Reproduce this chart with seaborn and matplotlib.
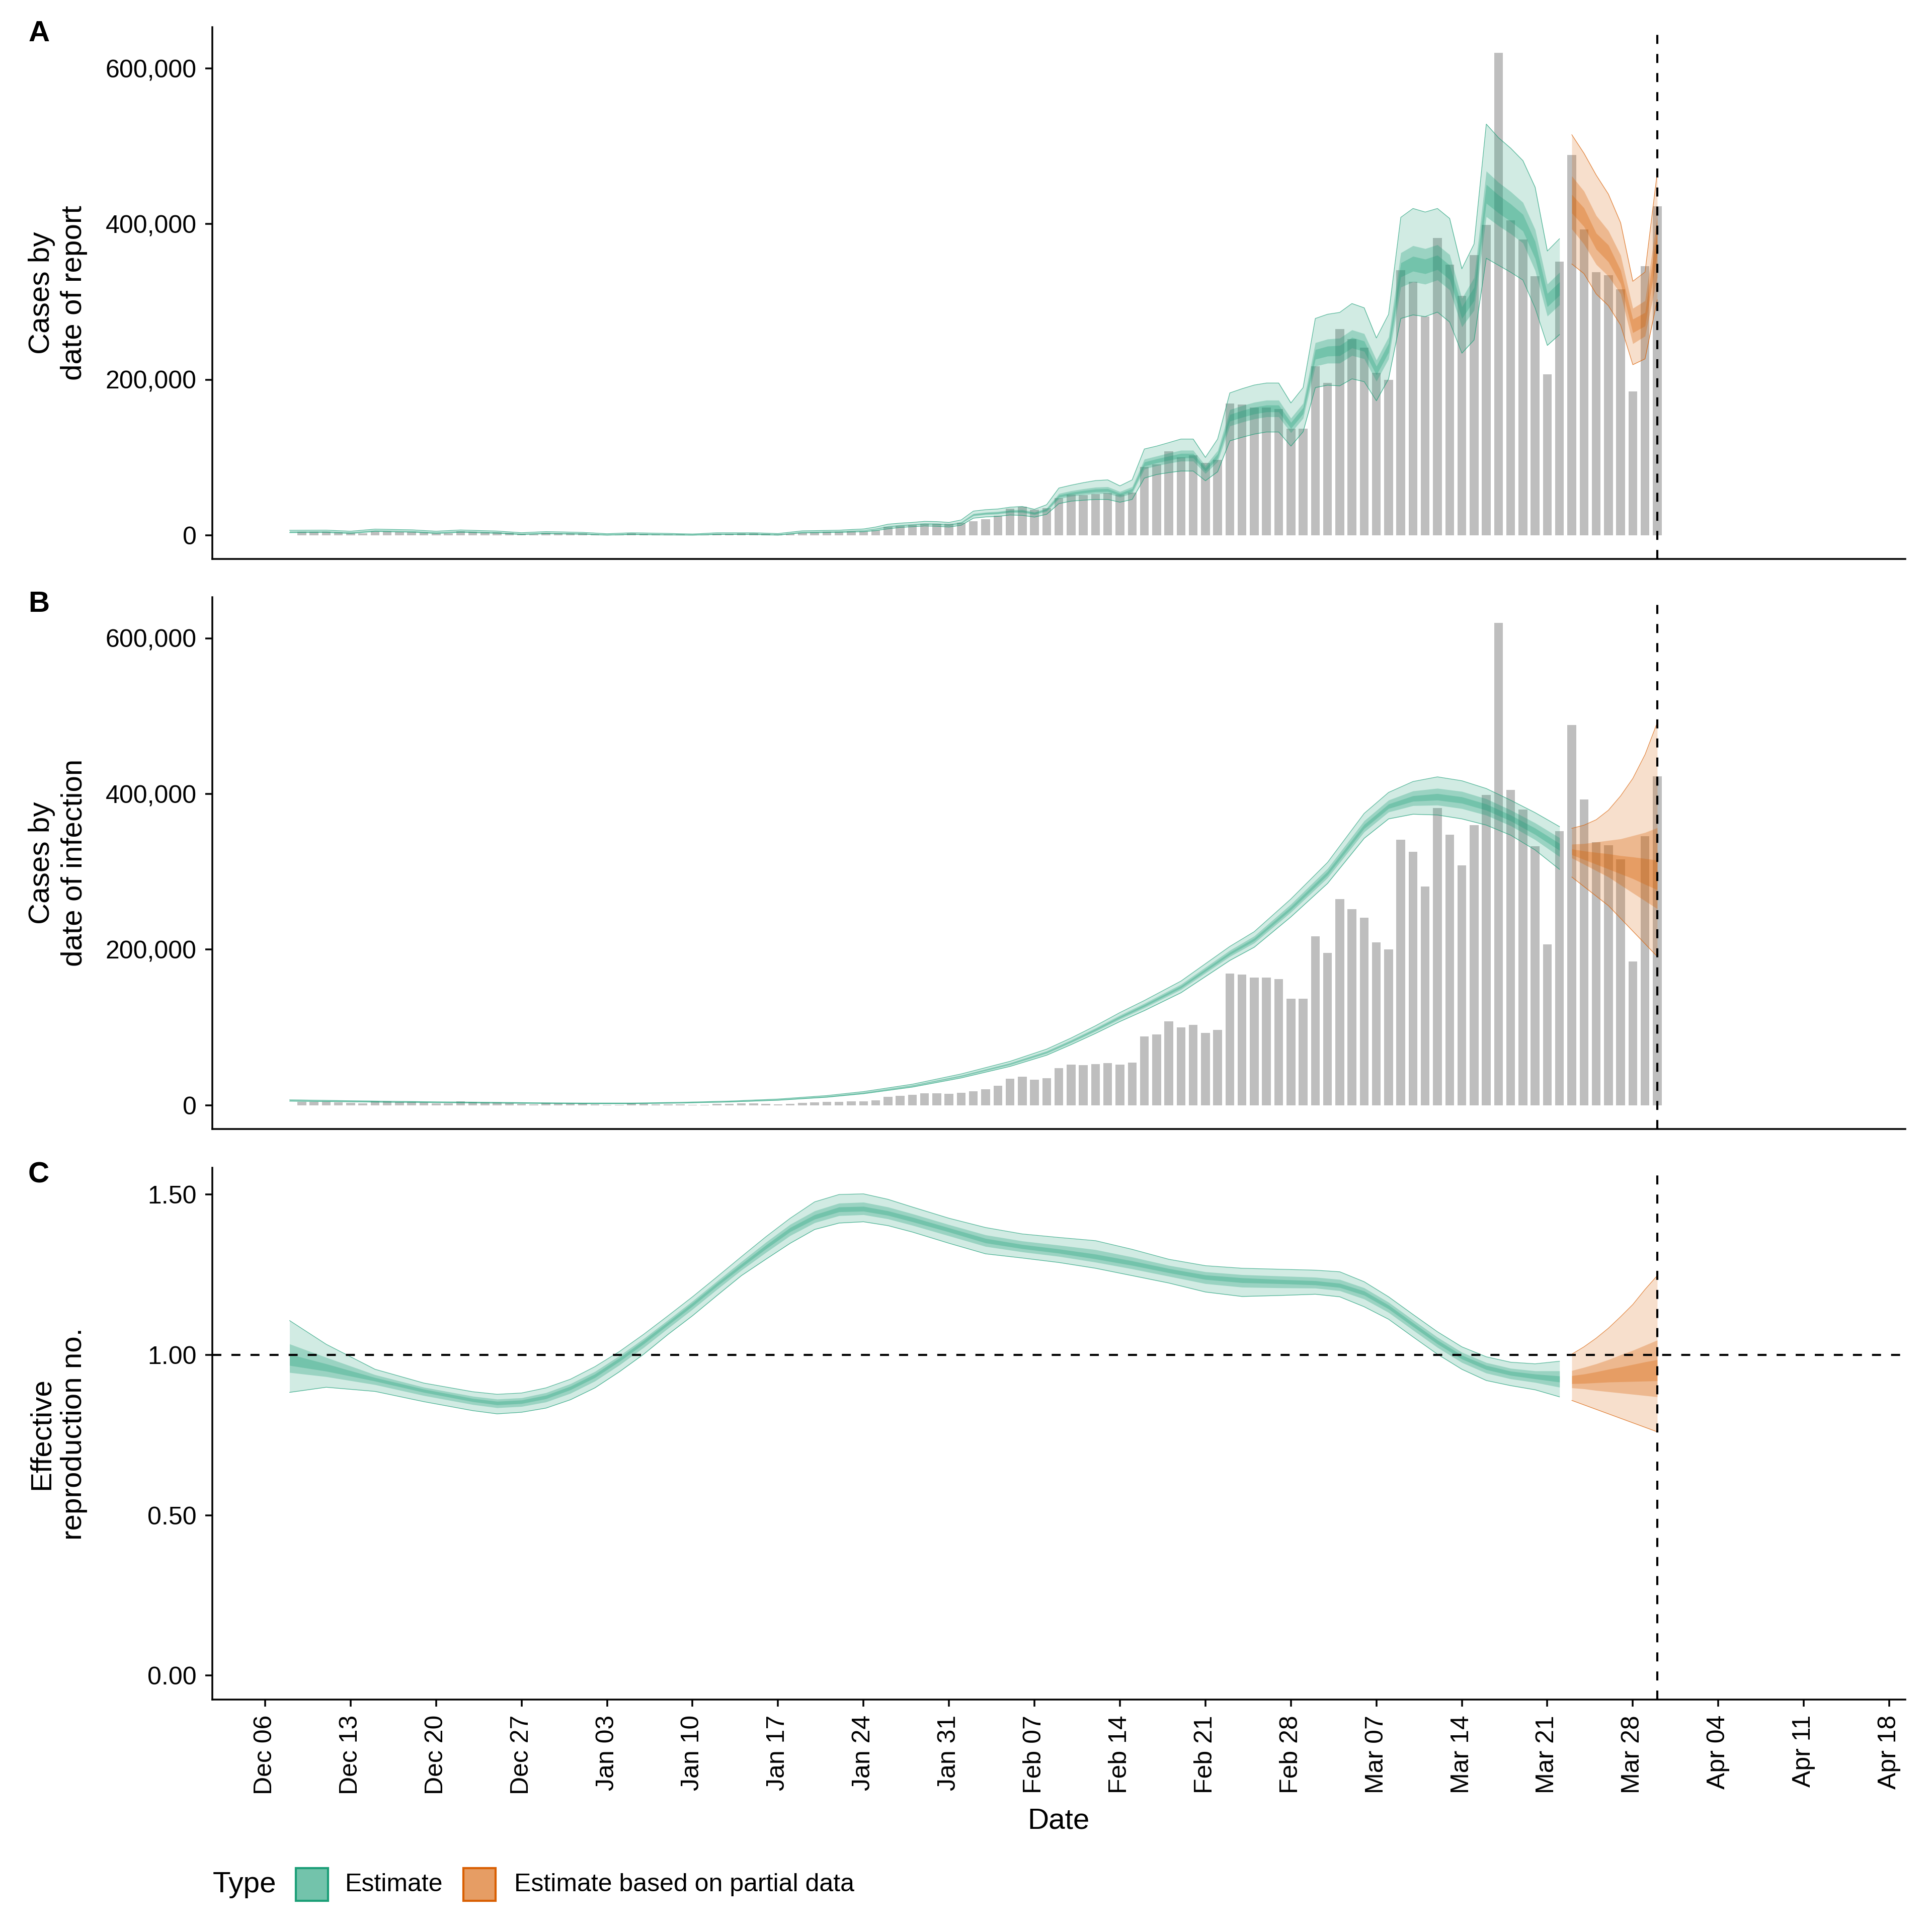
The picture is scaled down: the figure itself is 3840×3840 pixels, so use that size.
import numpy as np
import pandas as pd
import matplotlib
matplotlib.use("Agg")
import matplotlib.pyplot as plt
from matplotlib.patches import Rectangle
from matplotlib.ticker import FuncFormatter
import seaborn as sns

# ---------------------------------------------------------------- data
# reported daily cases (thousands), 2021-12-09 .. 2022-03-30
case_dates = pd.date_range("2021-12-09", "2022-03-30", freq="D")
cases_k = [4.3, 4.3, 4.3, 3.9, 3.0, 2.6, 5.0, 5.0, 4.5, 4.5,
           3.5, 2.4, 2.4, 5.0, 4.3, 3.5, 3.5, 3.0, 1.5, 1.0,
           3.0, 2.6, 2.2, 2.2, 1.3, 0.5, 0.2, 2.2, 1.7, 1.3,
           1.0, 1.0, 0.2, 0.2, 1.7, 1.7, 2.2, 2.2, 1.7, 1.3,
           1.7, 3.0, 3.9, 4.3, 4.3, 5.0, 4.8, 6.0, 10.6, 12.3,
           13.6, 15.0, 15.0, 14.5, 16.0, 18.0, 20.7, 25.0, 34.0, 36.5,
           33.0, 34.5, 47.5, 52.0, 51.5, 53.0, 54.0, 52.0, 55.0, 88.0,
           91.0,
           108, 100, 103, 93, 97, 169, 168, 164, 164, 162, 137,
           137, 217, 196, 265, 252, 241, 209, 200, 341, 326,
           281, 382, 348, 308, 360, 399, 620, 405, 380, 333,
           207, 352, 489, 393, 338, 334, 316, 185, 346, 423]

# Panel A: cases by date of report, estimate (thousands)
rep_dates = (["2021-12-08", "2021-12-11", "2021-12-13", "2021-12-15", "2021-12-18",
              "2021-12-20", "2021-12-22", "2021-12-25", "2021-12-27", "2021-12-29",
              "2022-01-01", "2022-01-03", "2022-01-05", "2022-01-08", "2022-01-10",
              "2022-01-12", "2022-01-15", "2022-01-17", "2022-01-19", "2022-01-22"]
             + [d.strftime("%Y-%m-%d") for d in pd.date_range("2022-01-23", "2022-03-22")])
rep_lo90 = [3.3, 3.5, 2.3, 4.8, 3.9, 2.3, 3.7, 2.5, 0.8, 2.0, 1.2, 0.1, 0.9, 0.3, 0.1, 0.9, 0.9, 0.1, 3.0, 3.6,
            4.1, 4.5, 5.9, 8.2, 10.0, 10.9, 11.9, 11.5, 10.5,
            12.8, 21.9, 23.5, 24.2, 26.0, 25.5, 23.3, 26.9, 40.6, 43.8, 45.0, 46.0, 46.0, 42.4, 46.0,
            73.4, 78.0, 80.5, 82.5, 82.5, 70.0, 81.6, 121.3, 125.9, 130.0, 132.7, 132.7, 114.5,
            133.0, 189.7, 192.9, 192.0, 201.0, 197.4, 172.8, 201.0, 278.6, 283.2, 281.0, 286.8, 274.0,
            234.0, 251.0, 356.0, 347.0, 338.0, 328.0, 292.0, 244.0, 258.0]
rep_hi90 = [6.3, 6.5, 5.1, 7.8, 6.9, 5.1, 6.7, 5.3, 3.2, 4.6, 3.6, 1.9, 3.1, 2.3, 1.5, 3.1, 3.1, 2.1, 5.6, 6.4,
            7.3, 8.0, 10.5, 14.1, 15.5, 16.4, 17.8, 17.5, 16.4,
            19.6, 31.0, 32.8, 33.7, 36.0, 36.9, 33.3, 39.2, 60.6, 64.3, 67.5, 70.2, 71.1, 63.4, 71.1,
            110.8, 114.5, 119.0, 123.6, 123.6, 100.0, 123.6, 182.9, 188.3, 193.0, 195.6, 195.6, 170.0,
            189.7, 278.6, 284.0, 286.4, 297.8, 292.3, 253.5, 284.0, 408.6, 420.0, 415.4, 420.0, 407.2,
            342.5, 374.4, 528.5, 511.0, 497.5, 481.5, 447.3, 365.3, 381.2]
rep_lo50 = [4.2, 4.4, 3.1, 5.7, 4.8, 3.1, 4.6, 3.3, 1.5, 2.8, 2.0, 0.6, 1.6, 1.0, 0.5, 1.6, 1.6, 0.8, 3.9, 4.5,
            5.1, 5.6, 7.3, 10.0, 11.7, 12.6, 13.7, 13.4, 12.3,
            14.9, 24.7, 26.4, 27.1, 29.1, 29.0, 26.4, 30.7, 46.8, 50.1, 52.0, 53.5, 53.7, 48.9, 53.7,
            85.0, 89.3, 92.5, 95.2, 95.2, 79.3, 94.6, 140.4, 145.3, 149.5, 152.2, 152.2, 131.7,
            150.4, 217.3, 221.1, 221.2, 231.0, 226.8, 197.8, 226.7, 318.9, 325.7, 322.7, 328.1, 315.3,
            267.7, 289.2, 409.5, 397.8, 387.5, 375.6, 340.1, 281.6, 296.2]
rep_hi50 = [5.2, 5.4, 4.1, 6.7, 5.8, 4.1, 5.6, 4.3, 2.3, 3.6, 2.8, 1.2, 2.4, 1.6, 1.1, 2.4, 2.4, 1.4, 4.7, 5.5,
            6.2, 6.8, 8.9, 12.0, 13.5, 14.4, 15.7, 15.4, 14.3,
            17.3, 27.9, 29.6, 30.5, 32.5, 33.0, 29.8, 34.9, 53.6, 57.1, 59.6, 61.7, 62.3, 56.1, 62.3,
            97.8, 101.7, 105.6, 109.2, 109.2, 89.5, 108.9, 161.4, 166.5, 170.9, 173.6, 173.6, 150.5,
            169.6, 247.5, 252.1, 253.3, 264.0, 259.1, 225.2, 254.9, 363.1, 372.2, 368.4, 373.4, 360.6,
            304.5, 331.2, 468.1, 453.6, 441.7, 427.8, 392.9, 322.8, 338.0]
rep_lo20 = [4.5, 4.7, 3.4, 6.0, 5.1, 3.4, 4.9, 3.6, 1.7, 3.0, 2.2, 0.8, 1.8, 1.2, 0.7, 1.8, 1.8, 1.0, 4.1, 4.8,
            5.4, 6.0, 7.8, 10.6, 12.2, 13.1, 14.3, 14.0, 12.9,
            15.6, 25.7, 27.3, 28.1, 30.1, 30.2, 27.4, 31.9, 48.8, 52.2, 54.2, 55.9, 56.2, 51.0, 56.2,
            88.8, 93.0, 96.3, 99.3, 99.3, 82.3, 98.9, 146.6, 151.5, 155.8, 158.5, 158.5, 137.2,
            156.0, 226.2, 230.2, 230.7, 240.7, 236.3, 205.9, 235.0, 331.9, 339.4, 336.1, 341.4, 328.6,
            278.5, 301.6, 426.7, 414.2, 403.4, 391.0, 355.6, 293.7, 308.5]
rep_hi20 = [4.9, 5.1, 3.8, 6.4, 5.5, 3.8, 5.3, 4.0, 2.1, 3.4, 2.6, 1.0, 2.2, 1.4, 0.9, 2.2, 2.2, 1.2, 4.5, 5.2,
            5.8, 6.4, 8.4, 11.4, 13.0, 13.9, 15.1, 14.8, 13.7,
            16.6, 26.9, 28.7, 29.5, 31.5, 31.8, 28.8, 33.7, 51.6, 55.0, 57.4, 59.3, 59.8, 54.0, 59.8,
            94.0, 98.1, 101.7, 105.1, 105.1, 86.5, 104.7, 155.2, 160.3, 164.6, 167.3, 167.3, 145.0,
            164.0, 238.6, 243.0, 243.9, 254.3, 249.6, 217.2, 246.6, 350.1, 358.5, 354.9, 360.0, 347.2,
            293.7, 318.8, 450.9, 437.2, 425.8, 412.4, 377.4, 310.7, 325.7]

# Panel A: estimate based on partial data (thousands)
part_dates = ["2022-03-23", "2022-03-24", "2022-03-25", "2022-03-26",
              "2022-03-27", "2022-03-28", "2022-03-29", "2022-03-30"]
prep_lo90 = [348.7, 336.2, 310.2, 295.0, 270.1, 219.2, 226.7, 302.6]
prep_hi90 = [514.9, 491.0, 462.9, 438.4, 401.6, 326.4, 338.3, 466.2]
prep_lo50 = [393.6, 374.1, 348.1, 332.9, 310.2, 246.2, 256.0, 331.8]
prep_hi50 = [461.8, 442.3, 410.9, 391.4, 360.0, 291.7, 301.5, 409.8]
prep_lo20 = [414.2, 396.8, 367.6, 351.3, 323.2, 260.3, 269.0, 362.2]
prep_hi20 = [438.0, 420.7, 388.2, 373.0, 340.5, 277.7, 286.3, 392.5]

# Panel B: cases by date of infection, estimate (thousands)
inf_dates = ["2021-12-08", "2021-12-12", "2021-12-16", "2021-12-20", "2021-12-24", "2021-12-28",
             "2022-01-01", "2022-01-05", "2022-01-09", "2022-01-13", "2022-01-17", "2022-01-21",
             "2022-01-24", "2022-01-28", "2022-02-01", "2022-02-05", "2022-02-08", "2022-02-10",
             "2022-02-12", "2022-02-14", "2022-02-16", "2022-02-19", "2022-02-23", "2022-02-25",
             "2022-02-28", "2022-03-03", "2022-03-06", "2022-03-08", "2022-03-10", "2022-03-12",
             "2022-03-14", "2022-03-16", "2022-03-18", "2022-03-20", "2022-03-22"]
inf_lo90 = [5.2, 4.5, 3.8, 3.3, 2.8, 2.3, 1.9, 1.9, 2.7, 4.1, 6.3, 10.2, 14.7, 23.2, 35.0, 49.8, 64.2, 77.8,
            92.2, 107.5, 121.5, 144.5, 186.0, 203.0, 242.0, 285.0, 343.0, 368.0, 374.0, 373.0, 368.0,
            360.0, 347.0, 328.0, 303.0]
inf_hi90 = [6.8, 5.9, 5.0, 4.3, 3.7, 3.1, 2.7, 2.7, 3.6, 5.2, 7.8, 12.3, 17.4, 26.9, 40.1, 56.3, 72.0, 86.3,
            102.0, 119.0, 134.5, 159.5, 204.0, 223.0, 265.0, 312.0, 375.0, 402.0, 416.0, 422.0, 417.0,
            407.0, 392.0, 376.0, 358.0]
inf_lo50 = [5.6, 4.9, 4.1, 3.6, 3.0, 2.5, 2.1, 2.1, 2.9, 4.4, 6.7, 10.8, 15.4, 24.2, 36.4, 51.6, 66.3, 80.1,
            94.8, 110.5, 125.1, 148.6, 191.0, 208.5, 248.0, 292.2, 351.2, 376.8, 385.0, 385.7, 381.2,
            372.7, 359.1, 341.2, 319.4]
inf_hi50 = [6.4, 5.5, 4.7, 4.0, 3.4, 2.9, 2.5, 2.5, 3.3, 4.9, 7.4, 11.7, 16.6, 25.9, 38.6, 54.5, 69.8, 84.0,
            99.3, 115.7, 130.9, 155.4, 199.1, 217.5, 258.4, 304.3, 365.6, 392.1, 403.9, 407.3, 403.3,
            393.8, 379.4, 362.8, 343.7]
inf_lo20 = [5.9, 5.1, 4.3, 3.7, 3.1, 2.6, 2.2, 2.2, 3.0, 4.5, 6.9, 11.0, 15.8, 24.7, 37.1, 52.5, 67.4, 81.3,
            96.2, 112.1, 126.9, 150.7, 193.5, 211.3, 251.1, 295.8, 355.5, 381.3, 390.6, 392.1, 388.1,
            379.1, 365.3, 347.9, 327.4]
inf_hi20 = [6.1, 5.3, 4.5, 3.9, 3.3, 2.8, 2.4, 2.4, 3.2, 4.7, 7.1, 11.4, 16.2, 25.3, 37.9, 53.6, 68.7, 82.7,
            97.9, 114.0, 129.1, 153.3, 196.5, 214.7, 255.0, 300.4, 360.9, 387.1, 397.7, 400.5, 396.3,
            387.1, 372.9, 356.1, 336.4]

# Panel B: estimate based on partial data (thousands)
pinf_lo90 = [293.3, 281.0, 268.7, 256.4, 240.1, 223.7, 207.4, 191.0]
pinf_hi90 = [355.8, 359.9, 366.9, 379.1, 397.5, 420.0, 450.7, 491.6]
pinf_lo50 = [317.8, 309.6, 301.4, 293.3, 283.0, 272.8, 262.6, 252.4]
pinf_hi50 = [335.4, 336.2, 338.2, 340.3, 342.3, 346.4, 350.5, 356.6]
pinf_lo20 = [321.9, 315.7, 309.6, 303.5, 297.3, 291.2, 283.8, 276.9]
pinf_hi20 = [329.2, 326.8, 324.8, 323.1, 320.7, 319.0, 317.0, 314.9]

# Panel C: effective reproduction number, estimate
r_dates = ["2021-12-08", "2021-12-11", "2021-12-15", "2021-12-19", "2021-12-23", "2021-12-25",
           "2021-12-27", "2021-12-29", "2021-12-31", "2022-01-02", "2022-01-04", "2022-01-06",
           "2022-01-08", "2022-01-10", "2022-01-12", "2022-01-14", "2022-01-16", "2022-01-18",
           "2022-01-20", "2022-01-22", "2022-01-24", "2022-01-26", "2022-01-28", "2022-01-31",
           "2022-02-03", "2022-02-06", "2022-02-09", "2022-02-12", "2022-02-15", "2022-02-18",
           "2022-02-21", "2022-02-24", "2022-02-27", "2022-03-02", "2022-03-04", "2022-03-06",
           "2022-03-08", "2022-03-10", "2022-03-12", "2022-03-14", "2022-03-16", "2022-03-18",
           "2022-03-20", "2022-03-22"]
r_lo90 = [0.883, 0.899, 0.886, 0.854, 0.826, 0.816, 0.821, 0.834, 0.860, 0.897, 0.947, 1.002,
          1.064, 1.122, 1.185, 1.247, 1.298, 1.348, 1.391, 1.411, 1.415, 1.403, 1.383, 1.348,
          1.315, 1.302, 1.288, 1.270, 1.247, 1.224, 1.196, 1.182, 1.185, 1.189, 1.181, 1.150,
          1.111, 1.056, 1.002, 0.955, 0.920, 0.904, 0.891, 0.869]
r_hi90 = [1.107, 1.033, 0.955, 0.912, 0.885, 0.877, 0.881, 0.897, 0.924, 0.963, 1.010, 1.064,
          1.122, 1.181, 1.243, 1.306, 1.368, 1.426, 1.477, 1.500, 1.502, 1.485, 1.461, 1.426,
          1.397, 1.377, 1.366, 1.356, 1.329, 1.298, 1.278, 1.270, 1.267, 1.264, 1.259, 1.228,
          1.181, 1.126, 1.072, 1.025, 0.994, 0.977, 0.972, 0.980]
r_lo50 = [0.945, 0.932, 0.907, 0.873, 0.845, 0.835, 0.839, 0.853, 0.880, 0.918, 0.968, 1.023,
          1.083, 1.142, 1.204, 1.264, 1.319, 1.372, 1.412, 1.434, 1.437, 1.424, 1.404, 1.371,
          1.338, 1.321, 1.307, 1.289, 1.268, 1.245, 1.222, 1.211, 1.209, 1.208, 1.200, 1.174,
          1.132, 1.077, 1.023, 0.976, 0.943, 0.925, 0.914, 0.899]
r_hi50 = [1.034, 0.992, 0.938, 0.899, 0.871, 0.862, 0.866, 0.882, 0.910, 0.948, 0.997, 1.051,
          1.109, 1.168, 1.230, 1.291, 1.351, 1.407, 1.449, 1.473, 1.476, 1.461, 1.440, 1.406,
          1.374, 1.355, 1.342, 1.328, 1.305, 1.279, 1.259, 1.250, 1.246, 1.242, 1.235, 1.209,
          1.164, 1.109, 1.055, 1.008, 0.976, 0.958, 0.950, 0.950]
r_lo20 = [0.967, 0.949, 0.918, 0.883, 0.854, 0.844, 0.848, 0.863, 0.891, 0.929, 0.979, 1.034,
          1.093, 1.152, 1.214, 1.273, 1.330, 1.384, 1.423, 1.446, 1.448, 1.435, 1.415, 1.383,
          1.349, 1.331, 1.317, 1.299, 1.279, 1.256, 1.235, 1.225, 1.222, 1.218, 1.210, 1.186,
          1.143, 1.088, 1.034, 0.987, 0.954, 0.936, 0.925, 0.915]
r_hi20 = [1.002, 0.972, 0.929, 0.893, 0.864, 0.855, 0.859, 0.874, 0.902, 0.940, 0.990, 1.045,
          1.103, 1.162, 1.224, 1.283, 1.342, 1.397, 1.437, 1.461, 1.463, 1.449, 1.429, 1.396,
          1.363, 1.344, 1.330, 1.314, 1.293, 1.269, 1.249, 1.240, 1.235, 1.231, 1.223, 1.199,
          1.155, 1.100, 1.046, 0.999, 0.967, 0.949, 0.940, 0.934]

# Panel C: estimate based on partial data
pr_lo90 = [0.858, 0.844, 0.830, 0.816, 0.802, 0.788, 0.774, 0.760]
pr_hi90 = [1.002, 1.025, 1.052, 1.083, 1.119, 1.157, 1.204, 1.247]
pr_lo50 = [0.897, 0.894, 0.889, 0.885, 0.881, 0.877, 0.873, 0.869]
pr_hi50 = [0.951, 0.961, 0.972, 0.985, 1.000, 1.014, 1.030, 1.046]
pr_lo20 = [0.910, 0.911, 0.913, 0.915, 0.916, 0.917, 0.918, 0.919]
pr_hi20 = [0.935, 0.940, 0.947, 0.955, 0.962, 0.970, 0.978, 0.985]

tick_dates = pd.date_range("2021-12-06", "2022-04-18", freq="7D")
data_end = pd.Timestamp("2022-03-30")
type_labels = ["Estimate", "Estimate based on partial data"]

# ---------------------------------------------------------------- style
sns.set_theme(style="ticks")
plt.rcParams["font.family"] = ["Liberation Sans", "DejaVu Sans"]
plt.rcParams["axes.edgecolor"] = "black"
plt.rcParams["text.color"] = "black"
plt.rcParams["axes.labelcolor"] = "black"

GREEN = "#1B9E77"
ORANGE = "#D95F02"
BAR = "#BEBEBE"
DASH = (0, (4.3, 4.8))
TICK_FS = 12
TITLE_FS = 14

x_left = pd.Timestamp("2021-12-06") - pd.Timedelta(days=4.34)
x_right = pd.Timestamp("2021-12-06") + pd.Timedelta(days=134.3)

fig = plt.figure(figsize=(12.8, 12.8), dpi=300)
ax_l, ax_w, ax_h = 0.1098, 0.8763, 0.2752
axA = fig.add_axes([ax_l, 0.7107, ax_w, ax_h])
axB = fig.add_axes([ax_l, 0.4157, ax_w, ax_h])
axC = fig.add_axes([ax_l, 0.1203, ax_w, ax_h])


def band(ax, dates, lo90, hi90, lo50, hi50, lo20, hi20, color, mult=1.0):
    x = pd.to_datetime(pd.Series(dates))
    f = lambda a: np.asarray(a, dtype=float) * mult
    ax.fill_between(x, f(lo90), f(hi90), color=color, alpha=0.2, lw=0, zorder=2)
    ax.fill_between(x, f(lo50), f(hi50), color=color, alpha=0.3, lw=0, zorder=3)
    ax.fill_between(x, f(lo20), f(hi20), color=color, alpha=0.3, lw=0, zorder=4)
    for edge in (lo90, hi90):
        sns.lineplot(x=x, y=f(edge), ax=ax, color=color, lw=0.3, alpha=0.75,
                     legend=False, estimator=None, zorder=5)


def style(ax, show_x):
    sns.despine(ax=ax)
    for s in ("left", "bottom"):
        ax.spines[s].set_linewidth(0.85)
        ax.spines[s].set_color("black")
    ax.tick_params(axis="both", width=0.85, length=3.4, pad=4,
                   labelsize=TICK_FS, colors="black")
    ax.set_xlim(x_left, x_right)
    ax.set_xticks(tick_dates)
    if show_x:
        ax.set_xticklabels([d.strftime("%b %d") for d in tick_dates], rotation=90,
                           ha="center", va="top")
    else:
        ax.tick_params(axis="x", length=0, labelbottom=False)
    ax.set_xlabel("")
    ax.grid(False)
    ax.axvline(data_end, color="black", lw=1.0, ls=DASH, zorder=7)


comma = FuncFormatter(lambda v, p: f"{int(round(v)):,}")

for ax in (axA, axB):
    ax.bar(case_dates, np.asarray(cases_k) * 1000, width=0.72, color=BAR, lw=0, zorder=1)

band(axA, rep_dates, rep_lo90, rep_hi90, rep_lo50, rep_hi50, rep_lo20, rep_hi20, GREEN, 1000)
band(axA, part_dates, prep_lo90, prep_hi90, prep_lo50, prep_hi50, prep_lo20, prep_hi20, ORANGE, 1000)
band(axB, inf_dates, inf_lo90, inf_hi90, inf_lo50, inf_hi50, inf_lo20, inf_hi20, GREEN, 1000)
band(axB, part_dates, pinf_lo90, pinf_hi90, pinf_lo50, pinf_hi50, pinf_lo20, pinf_hi20, ORANGE, 1000)
band(axC, r_dates, r_lo90, r_hi90, r_lo50, r_hi50, r_lo20, r_hi20, GREEN)
band(axC, part_dates, pr_lo90, pr_hi90, pr_lo50, pr_hi50, pr_lo20, pr_hi20, ORANGE)
axC.axhline(1.0, color="black", lw=1.0, ls=DASH, zorder=7)

for ax in (axA, axB):
    style(ax, False)
    ax.set_ylim(-30500, 653000)
    ax.set_yticks([0, 200000, 400000, 600000])
    ax.yaxis.set_major_formatter(comma)
style(axC, True)
axC.set_ylim(-0.075, 1.583)
axC.set_yticks([0, 0.5, 1.0, 1.5])
axC.yaxis.set_major_formatter(FuncFormatter(lambda v, p: f"{v:.2f}"))

ylabels = ["Cases by\ndate of report", "Cases by\ndate of infection",
           "Effective\nreproduction no."]
for ax, lab in zip((axA, axB, axC), ylabels):
    ax.set_ylabel(lab, fontsize=TITLE_FS, linespacing=1.25, color="black")
    ax.yaxis.set_label_coords(-0.0911, 0.5)
    ax.yaxis.label.set_verticalalignment("center")

# panel tags
for tag, y in (("A", 0.9826), ("B", 0.6872), ("C", 0.3919)):
    fig.text(0.0146, y, tag, fontsize=14, fontweight="bold", ha="left", va="center",
             color="black")

fig.text(ax_l + ax_w / 2, 0.0575, "Date", fontsize=TITLE_FS, ha="center", va="center")

# legend
ly = 0.0245
kh = 0.0169
fig.text(0.1100, ly, "Type", fontsize=TITLE_FS, ha="left", va="center")
for kx, col, lab, tx in ((0.1531, GREEN, type_labels[0], 0.1787),
                         (0.2398, ORANGE, type_labels[1], 0.2662)):
    for a in (0.2, 0.3, 0.3):
        fig.add_artist(Rectangle((kx, ly - kh / 2), 0.0166, kh, transform=fig.transFigure,
                                 facecolor=col, alpha=a, lw=0))
    fig.add_artist(Rectangle((kx, ly - kh / 2), 0.0166, kh, transform=fig.transFigure,
                             facecolor="none", edgecolor=col, lw=1.0))
    fig.text(tx, ly, lab, fontsize=12, ha="left", va="center")

fig.savefig("out.png", dpi=300)
